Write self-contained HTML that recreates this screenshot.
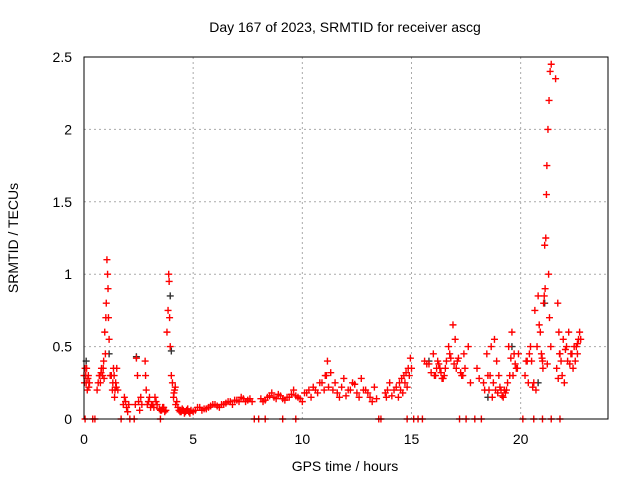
<!DOCTYPE html>
<html><head><meta charset="utf-8"><style>
body{margin:0;background:#fff}
text{font-family:"Liberation Sans",sans-serif;font-size:14px;fill:#000}
</style></head><body>
<svg id="chart" width="640" height="480" xmlns="http://www.w3.org/2000/svg">
<rect width="640" height="480" fill="#fff"/>
<text x="345" y="32" text-anchor="middle">Day 167 of 2023, SRMTID for receiver ascg</text>
<text x="345" y="471" text-anchor="middle">GPS time / hours</text>
<text transform="translate(18,238) rotate(-90)" text-anchor="middle">SRMTID / TECUs</text>
<g id="grid"></g><g id="marks"></g><g id="axes"></g>
</svg>
<script>
const xTicks=[0,5,10,15,20];
const yTicks=[0,0.5,1,1.5,2,2.5];
const yTickLabels=["0","0.5","1","1.5","2","2.5"];
const redT=[0.0,0.05,0.1,0.15,0.2,0.25,0.6,0.7,0.75,0.8,0.85,0.9,0.95,1.0,1.02,1.05,1.08,1.1,1.12,1.15,1.2,1.3,1.35,1.4,1.45,1.5,1.55,1.8,1.9,2.0,2.05,2.35,2.4,2.45,2.6,2.8,2.82,2.85,2.9,3.0,3.1,3.2,3.3,3.5,3.6,3.7,3.8,3.85,3.88,3.9,3.92,3.95,4.0,4.05,4.1,4.15,4.2,4.3,4.4,4.5,4.6,4.7,4.8,5.0,5.2,5.4,5.6,5.8,6.0,6.2,6.4,6.6,6.8,7.0,7.2,7.4,7.6,8.2,8.4,8.6,8.8,9.0,9.2,9.4,9.6,9.8,10.0,10.2,10.4,10.6,10.8,11.0,11.1,11.15,11.3,11.5,11.7,11.9,12.1,12.3,12.5,12.7,12.9,13.1,13.3,13.8,13.85,14.0,14.2,14.4,14.5,14.6,14.7,14.8,14.9,15.0,15.6,15.8,16.0,16.1,16.2,16.3,16.4,16.5,16.55,16.6,16.7,16.9,17.0,17.1,17.3,17.4,17.6,18.0,18.3,18.5,18.55,18.6,18.7,18.8,18.9,19.0,19.1,19.2,19.25,19.3,19.4,19.5,19.6,19.7,19.8,20.2,20.3,20.4,20.45,20.5,20.6,20.7,20.8,20.85,20.9,20.95,21.0,21.02,21.05,21.08,21.1,21.12,21.15,21.18,21.2,21.25,21.3,21.35,21.4,21.6,21.7,21.75,21.8,21.9,22.0,22.1,22.2,22.3,22.4,22.5,22.55,22.6,22.65,22.7];
const redV=[0.3,0.35,0.25,0.2,0.3,0.25,0.2,0.3,0.25,0.35,0.3,0.4,0.6,0.7,0.8,1.1,1.0,0.9,0.7,0.55,0.3,0.2,0.35,0.15,0.25,0.35,0.2,0.1,0.12,0.05,0.1,0.1,0.42,0.3,0.15,0.4,0.3,0.2,0.1,0.15,0.1,0.08,0.12,0.06,0.08,0.05,0.6,0.75,1.0,0.95,0.7,0.5,0.3,0.25,0.15,0.2,0.1,0.08,0.05,0.07,0.04,0.06,0.05,0.05,0.08,0.06,0.07,0.09,0.1,0.08,0.1,0.12,0.1,0.13,0.15,0.12,0.14,0.12,0.15,0.18,0.14,0.16,0.13,0.15,0.2,0.15,0.12,0.18,0.15,0.2,0.25,0.2,0.3,0.4,0.32,0.25,0.15,0.28,0.2,0.25,0.18,0.28,0.2,0.15,0.22,0.18,0.15,0.25,0.2,0.15,0.2,0.18,0.25,0.22,0.3,0.35,0.4,0.38,0.45,0.3,0.4,0.35,0.28,0.3,0.35,0.4,0.5,0.65,0.55,0.4,0.3,0.45,0.5,0.35,0.25,0.3,0.2,0.3,0.15,0.55,0.4,0.3,0.2,0.15,0.2,0.18,0.25,0.3,0.6,0.45,0.35,0.3,0.4,0.45,0.5,0.4,0.25,0.2,0.85,0.65,0.6,0.45,0.4,0.35,0.8,0.85,1.2,0.9,1.25,1.55,1.75,2.0,2.2,2.4,2.45,2.35,0.8,0.6,0.45,0.3,0.25,0.5,0.6,0.45,0.35,0.4,0.5,0.45,0.55,0.6,0.5,0.12,0.05,0.1,0.12,0.08,0.12];
const extraT=[0.02,0.08,0.12,0.18,0.22,0.65,0.72,0.78,0.88,0.92,0.98,1.25,1.32,1.38,1.42,1.48,1.85,1.95,2.5,2.55,2.65,2.95,3.05,3.15,3.25,3.35,3.45,3.55,3.65,3.75,4.12,4.18,4.25,4.35,4.45,4.55,4.65,4.75,4.85,4.9,5.1,5.3,5.5,5.7,5.9,6.1,6.3,6.5,6.7,6.9,7.1,7.3,7.5,7.7,8.1,8.3,8.5,8.7,8.9,9.1,9.3,9.5,9.7,9.9,10.1,10.3,10.5,10.7,10.9,11.05,11.2,11.4,11.6,11.8,12.0,12.2,12.4,12.6,12.8,13.0,13.2,13.4,13.9,14.1,14.3,14.45,14.55,14.65,14.75,14.85,14.95,15.7,15.9,16.05,16.15,16.25,16.35,16.45,16.75,16.8,16.95,17.05,17.15,17.25,17.35,17.45,17.7,18.1,18.35,18.45,18.65,18.75,18.85,18.95,19.05,19.15,19.35,19.45,19.55,19.65,19.75,19.85,19.9,20.25,20.35,20.55,20.65,20.75,20.98,21.22,21.28,21.32,21.38,21.65,21.72,21.78,21.85,21.95,22.05,22.15,22.25,22.35,22.45,22.6,22.75];
const extraV=[0.25,0.3,0.35,0.28,0.22,0.25,0.3,0.32,0.35,0.28,0.45,0.3,0.25,0.3,0.2,0.22,0.15,0.08,0.12,0.06,0.1,0.12,0.08,0.1,0.15,0.1,0.07,0.06,0.08,0.06,0.18,0.22,0.12,0.06,0.05,0.06,0.05,0.07,0.04,0.06,0.06,0.08,0.07,0.08,0.1,0.09,0.1,0.11,0.12,0.13,0.12,0.14,0.13,0.12,0.14,0.13,0.16,0.15,0.17,0.14,0.15,0.17,0.16,0.14,0.18,0.2,0.22,0.18,0.25,0.3,0.22,0.2,0.18,0.22,0.16,0.2,0.24,0.15,0.2,0.18,0.12,0.14,0.2,0.16,0.22,0.25,0.28,0.3,0.32,0.35,0.42,0.38,0.32,0.3,0.35,0.38,0.32,0.28,0.45,0.42,0.38,0.35,0.42,0.32,0.3,0.35,0.25,0.28,0.2,0.45,0.5,0.25,0.2,0.18,0.22,0.16,0.2,0.5,0.42,0.3,0.38,0.35,0.45,0.4,0.25,0.22,0.75,0.5,0.42,0.38,1.0,0.7,0.5,0.35,0.28,0.45,0.4,0.55,0.48,0.4,0.38,0.45,0.5,0.52,0.55,0.1,0.08,0.1];
const zeroT=[0.05,0.4,0.5,1.7,2.1,2.3,3.5,7.8,8.0,8.3,9.1,9.7,13.5,13.6,14.8,15.1,15.3,15.5,17.2,17.5,17.9,18.2,20.1,20.6,21.0,21.4,21.8];
const darkT=[0.1,1.15,2.4,3.95,4.0,15.8,18.5,19.6,20.8,21.1];
const darkV=[0.4,0.45,0.43,0.85,0.47,0.4,0.15,0.5,0.25,0.8];
const X0=84,X1=608,Y0=419,Y1=57,XMAX=24,YMAX=2.5;
const sx=t=>X0+t/XMAX*(X1-X0), sy=v=>Y0-v/YMAX*(Y0-Y1);
const NS="http://www.w3.org/2000/svg";
function mk(tag,attrs,parent){const e=document.createElementNS(NS,tag);for(const k in attrs)e.setAttribute(k,attrs[k]);parent.appendChild(e);return e;}
const grid=document.getElementById('grid'),marks=document.getElementById('marks'),axes=document.getElementById('axes');
xTicks.forEach(t=>{
 if(t>0){const g=mk('line',{x1:sx(t),x2:sx(t),y1:Y1,y2:Y0,stroke:'#aaa','stroke-dasharray':'2,3'},grid);
 
 }
 const l=mk('text',{x:sx(t),y:Y0+25,'text-anchor':'middle'},axes);l.textContent=t;
 
 
});
yTicks.forEach((v,i)=>{
 if(v>0&&v<YMAX){const g=mk('line',{x1:X0,x2:X1,y1:sy(v),y2:sy(v),stroke:'#aaa','stroke-dasharray':'2,3'},grid);
 
 }
 const l=mk('text',{x:X0-12,y:sy(v)+5,'text-anchor':'end'},axes);l.textContent=yTickLabels[i];
 
 
});
const frame=mk('rect',{x:X0,y:Y1,width:X1-X0,height:Y0-Y1,fill:'none',stroke:'#000'},axes);


function plus(t,v,c,name){const x=sx(t),y=sy(v);
 const p=mk('path',{d:`M${x-3.5},${y}H${x+3.5}M${x},${y-3.5}V${y+3.5}`,stroke:c,'stroke-width':1.4,fill:'none'},marks);
 
 }
darkT.forEach((t,i)=>plus(t,darkV[i],'#333','dark-point'));
redT.forEach((t,i)=>plus(t,redV[i],'#f00','srmtid-point'));
extraT.forEach((t,i)=>plus(t,extraV[i],'#f00','srmtid-point'));
zeroT.forEach(t=>plus(t,0,'#f00','zero-point'));
</script>
</body></html>
